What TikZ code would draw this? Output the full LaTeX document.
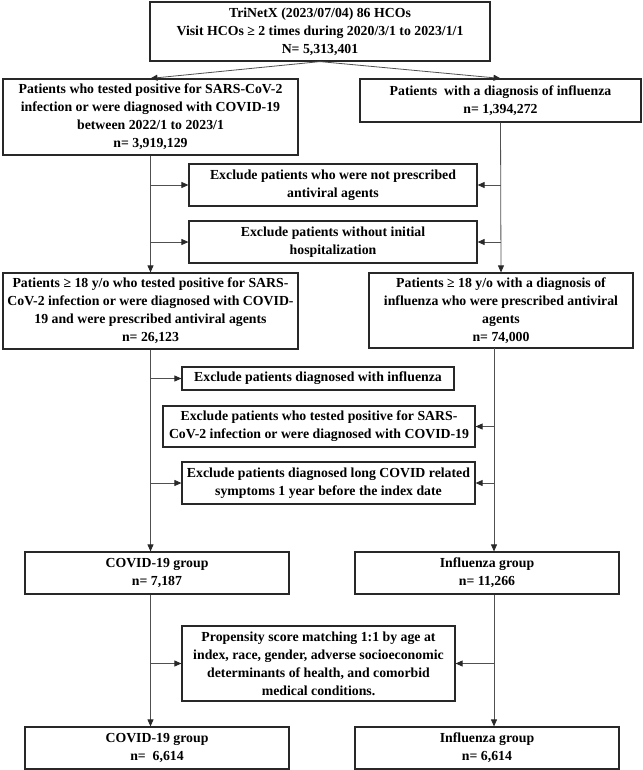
\documentclass[tikz,border=0pt]{standalone}
\usepackage{fontspec}
\setmainfont{Liberation Serif}
\usepackage{tikz}
\usetikzlibrary{arrows.meta,positioning}
\definecolor{boxgray}{RGB}{40,40,40}
\definecolor{linkgray}{RGB}{80,80,80}
\tikzset{
  box/.style={draw=boxgray,line width=1.2pt,fill=white,align=center,inner sep=0pt,font=\fontsize{13.8}{18}\selectfont\bfseries},
  link/.style={draw=linkgray,line width=0.8pt,-{Triangle[length=7pt,width=6pt,fill=boxgray,color=boxgray]}}
}

\begin{document}
\begin{tikzpicture}[x=1pt,y=-1pt]
        \useasboundingbox (0,0) rectangle (642,770);

        \node[box,minimum width=340pt,minimum height=59pt] (src) at (320,31.5) {TriNetX (2023/07/04) 86 HCOs\\Visit HCOs ≥ 2 times during 2020/3/1 to 2023/1/1\\N= 5,313,401};

        \node[box,minimum width=295pt,minimum height=76pt] (cov1) at (150.5,117) {Patients who tested positive for SARS-CoV-2\\infection or were diagnosed with COVID-19\\between 2022/1 to 2023/1\\n= 3,919,129};
        \node[box,minimum width=281pt,minimum height=43pt] (flu1) at (500.5,100.5) {Patients~ with a diagnosis of influenza\\n= 1,394,272};

        \node[box,minimum width=288pt,minimum height=42pt] (ex1) at (333,185) {Exclude patients who were not prescribed\\antiviral agents};
        \node[box,minimum width=288pt,minimum height=42pt] (ex2) at (333,242) {Exclude patients without initial\\hospitalization};

        \node[box,minimum width=295pt,minimum height=76pt] (cov2) at (150.5,311) {Patients ≥ 18 y/o who tested positive for SARS-\\CoV-2 infection or were diagnosed with COVID-\\19 and were prescribed antiviral agents\\n= 26,123};
        \node[box,minimum width=264pt,minimum height=75pt] (flu2) at (501,310.5) {Patients ≥ 18 y/o with a diagnosis of\\influenza who were prescribed antiviral\\agents\\n= 74,000};

        \node[box,minimum width=272pt,minimum height=23pt] (ex3) at (318,378.5) {Exclude patients diagnosed with influenza};
        \node[box,minimum width=312pt,minimum height=41pt] (ex4) at (319,426.5) {Exclude patients who tested positive for SARS-\\CoV-2 infection or were diagnosed with COVID-19};
        \node[box,minimum width=293pt,minimum height=42pt] (ex5) at (328.5,483) {Exclude patients diagnosed long COVID related\\symptoms 1 year before the index date};

        \node[box,minimum width=264pt,minimum height=42pt] (covg) at (157,573) {COVID-19 group\\n= 7,187};
        \node[box,minimum width=264pt,minimum height=42pt] (flug) at (487,573) {Influenza group\\n= 11,266};

        \node[box,minimum width=273pt,minimum height=75pt] (psm) at (318.5,663.5) {Propensity score matching 1:1 by age at\\index, race, gender, adverse socioeconomic\\determinants of health, and comorbid\\medical conditions.};

        \node[box,minimum width=264pt,minimum height=42pt] (covf) at (157,748) {COVID-19 group\\n=~ 6,614};
        \node[box,minimum width=264pt,minimum height=42pt] (fluf) at (487,748) {Influenza group\\n= 6,614};

        \coordinate (rt) at (494,348);

        \draw[link] (src.south) -- (cov1.north);
        \draw[link] (src.south) -- (flu1.north);

        \draw[link] (cov1.south) -- (cov2.north);
        \draw[link] (flu1.south) -- (flu2.north);
        \draw[link] (ex1.west -| cov1.south) -- (ex1.west);
        \draw[link] (ex1.east -| flu1.south) -- (ex1.east);
        \draw[link] (ex2.west -| cov1.south) -- (ex2.west);
        \draw[link] (ex2.east -| flu1.south) -- (ex2.east);

        \draw[link] (cov2.south) -- (cov2.south |- covg.north);
        \draw[link] (rt) -- (rt |- flug.north);
        \draw[link] (ex3.west -| cov2.south) -- (ex3.west);
        \draw[link] (ex4.east -| rt) -- (ex4.east);
        \draw[link] (ex5.west -| cov2.south) -- (ex5.west);
        \draw[link] (ex5.east -| rt) -- (ex5.east);

        \draw[link] (covg.south -| cov2.south) -- (covf.north -| cov2.south);
        \draw[link] (flug.south -| rt) -- (fluf.north -| rt);
        \draw[link] (psm.west -| cov2.south) -- (psm.west);
        \draw[link] (psm.east -| rt) -- (psm.east);
    \end{tikzpicture}
\end{document}
